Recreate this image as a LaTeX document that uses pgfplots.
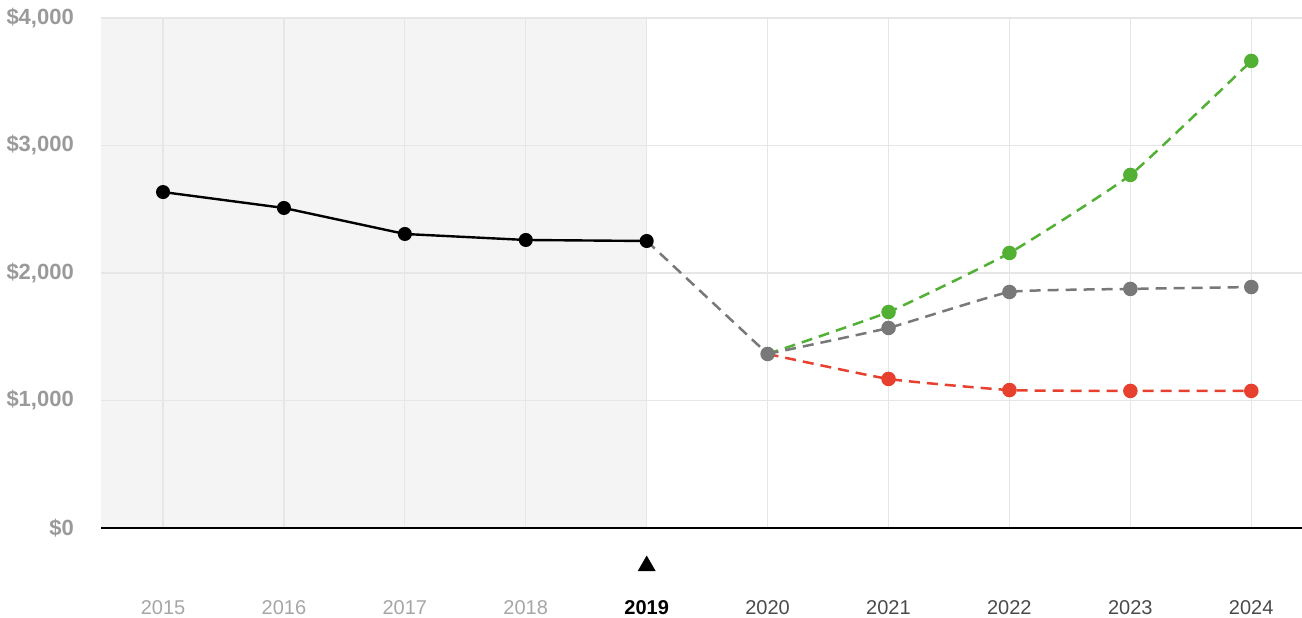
\documentclass[border=0pt]{standalone}
\usepackage{fontspec}
\setmainfont{Liberation Sans}
\usepackage{pgfplots}
\pgfplotsset{compat=1.18}
\definecolor{gridc}{HTML}{E6E6E6}
\definecolor{shade}{HTML}{F4F4F4}
\definecolor{ylab}{HTML}{9A9A9A}
\definecolor{pastc}{HTML}{A6A6A6}
\definecolor{futc}{HTML}{4A4A4A}
\definecolor{grayl}{HTML}{787878}
\definecolor{greenl}{HTML}{52B035}
\definecolor{redl}{HTML}{E8402F}
\begin{document}
\begin{tikzpicture}
\begin{axis}[
  set layers,
  at={(101bp,90bp)}, anchor=south west,
  scale only axis, width=1201bp, height=510bp,
  xmin=2014.487, xmax=2024.42, ymin=0, ymax=4000,
  clip=false,
  axis line style={draw=none},
  major tick length=0pt,
  xtick={2015,...,2024},
  xticklabels={{\textcolor{pastc}{2015}},{\textcolor{pastc}{2016}},{\textcolor{pastc}{2017}},{\textcolor{pastc}{2018}},{\textbf{2019}},{\textcolor{futc}{2020}},{\textcolor{futc}{2021}},{\textcolor{futc}{2022}},{\textcolor{futc}{2023}},{\textcolor{futc}{2024}}},
  xticklabel style={font=\fontsize{20bp}{24bp}\selectfont, inner sep=0pt, anchor=north, yshift=-72bp},
  ytick={0,1000,2000,3000,4000},
  yticklabels={{\$0},{\$1,000},{\$2,000},{\$3,000},{\$4,000}},
  yticklabel style={font=\fontsize{22bp}{26bp}\selectfont\bfseries, text=ylab, inner sep=0pt, anchor=east, xshift=-27bp},
  grid=major,
  major grid style={gridc, line width=1.2bp},
  extra y ticks={0},
  extra y tick labels={},
  extra y tick style={grid=major, major grid style={black, line width=2.6bp}},
]
\addplot[fill=shade, draw=none, on layer=axis background] coordinates {(2014.487,0) (2019,0) (2019,4000) (2014.487,4000)} \closedcycle;
% history
\addplot[black, line width=2.4bp, mark=*, mark size=5.8bp, mark options={solid}] coordinates {
(2015,2635) (2016,2510) (2017,2306) (2018,2259) (2019,2251)};
% bridge
\addplot[grayl, line width=2.5bp, dash pattern=on 11bp off 7bp] coordinates {(2019,2251) (2020,1365)};
% optimistic
\addplot[greenl, line width=2.5bp, dash pattern=on 11bp off 7bp, smooth, tension=0.25, mark=*, mark size=6bp, mark options={solid}, mark indices={2,3,4,5}] coordinates {
(2020,1365) (2021,1694) (2022,2157) (2023,2769) (2024,3663)};
% pessimistic
\addplot[redl, line width=2.5bp, dash pattern=on 11bp off 7bp, smooth, tension=0.25, mark=*, mark size=6bp, mark options={solid}, mark indices={2,3,4,5}] coordinates {
(2020,1365) (2021,1169) (2022,1082) (2023,1075) (2024,1075)};
% base
\addplot[grayl, line width=2.5bp, dash pattern=on 11bp off 7bp, smooth, tension=0.2, mark=*, mark size=6bp, mark options={solid}] coordinates {
(2020,1365) (2021,1569) (2022,1851) (2023,1875) (2024,1890)};
% marker for current year
\addplot[draw=none, mark=triangle*, mark size=10bp, mark options={black, solid}] coordinates {(2019,-298)};
\end{axis}
\pgfresetboundingbox
\path[use as bounding box] (0,0) rectangle (1302bp,618bp);
\end{tikzpicture}
\end{document}
